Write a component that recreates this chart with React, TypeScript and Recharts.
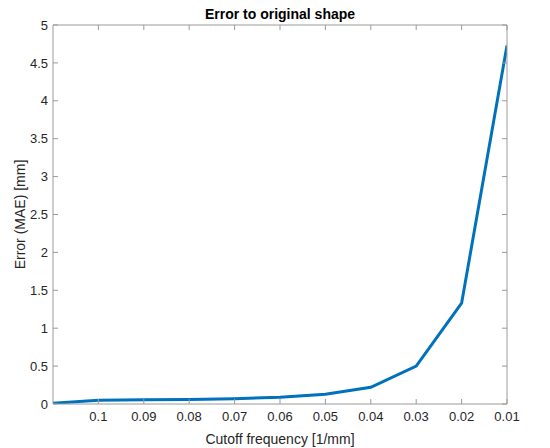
import React from "react";
import {
  LineChart,
  Line,
  XAxis,
  YAxis,
  Label,
} from "recharts";

const cutoff = [0.11, 0.1, 0.09, 0.08, 0.07, 0.06, 0.05, 0.04, 0.03, 0.02, 0.01];
const errorMae = [0.01, 0.05, 0.055, 0.06, 0.07, 0.09, 0.13, 0.22, 0.5, 1.33, 4.73];
const xTicks = [0.1, 0.09, 0.08, 0.07, 0.06, 0.05, 0.04, 0.03, 0.02, 0.01];
const yTicks = [0, 0.5, 1, 1.5, 2, 2.5, 3, 3.5, 4, 4.5, 5];

const data = cutoff.map((c, i) => ({ cutoff: c, err: errorMae[i] }));

const axisColor = "#9a9a9a";
const textColor = "#262626";
const font = "'Liberation Sans', Arial, Helvetica, sans-serif";
const noTick = () => <g />;

export default function App() {
  return (
    <div
      style={{
        position: "absolute",
        left: 0,
        top: 0,
        width: 550,
        height: 448,
        background: "#fff",
        fontFamily: font,
      }}
    >
      <div
        style={{
          position: "absolute",
          left: 53,
          width: 454,
          top: 6,
          textAlign: "center",
          fontSize: 14,
          fontWeight: "bold",
          color: "#000",
        }}
      >
        Error to original shape
      </div>
      <LineChart
        width={550}
        height={448}
        data={data}
        margin={{ top: 24, right: 42, bottom: 14, left: 13 }}
      >
        <XAxis
          dataKey="cutoff"
          type="number"
          domain={[0.01, 0.11]}
          reversed
          ticks={xTicks}
          tickFormatter={(v: number) => String(+v.toFixed(2))}
          height={30}
          tickSize={-5}
          tickMargin={13}
          stroke={axisColor}
          tick={{ fill: textColor, fontSize: 13, fontFamily: font }}
          allowDataOverflow
        >
          <Label
            value="Cutoff frequency [1/mm]"
            position="insideBottom"
            offset={-10}
            style={{ fill: textColor, fontSize: 14, fontFamily: font }}
          />
        </XAxis>
        {/* top/right axes only draw the box with inward ticks */}
        <XAxis
          xAxisId="top"
          orientation="top"
          dataKey="cutoff"
          type="number"
          domain={[0.01, 0.11]}
          reversed
          ticks={xTicks}
          height={1}
          tickSize={-5}
          stroke={axisColor}
          tick={noTick}
          allowDataOverflow
        />
        <YAxis
          type="number"
          domain={[0, 5]}
          ticks={yTicks}
          width={40}
          tickSize={-5}
          tickMargin={10}
          stroke={axisColor}
          tick={{ fill: textColor, fontSize: 13, fontFamily: font }}
          allowDataOverflow
        >
          <Label
            value="Error (MAE) [mm]"
            angle={-90}
            position="insideLeft"
            offset={7}
            style={{ fill: textColor, fontSize: 14, fontFamily: font, textAnchor: "middle" }}
          />
        </YAxis>
        <YAxis
          yAxisId="right"
          orientation="right"
          type="number"
          domain={[0, 5]}
          ticks={yTicks}
          width={1}
          tickSize={-5}
          stroke={axisColor}
          tick={noTick}
          allowDataOverflow
        />
        <Line
          xAxisId="top"
          yAxisId="right"
          dataKey="err"
          stroke="none"
          dot={false}
          activeDot={false}
          legendType="none"
          isAnimationActive={false}
        />
        <Line
          dataKey="err"
          stroke="#0072BD"
          strokeWidth={3}
          dot={false}
          type="linear"
          isAnimationActive={false}
        />
      </LineChart>
    </div>
  );
}
